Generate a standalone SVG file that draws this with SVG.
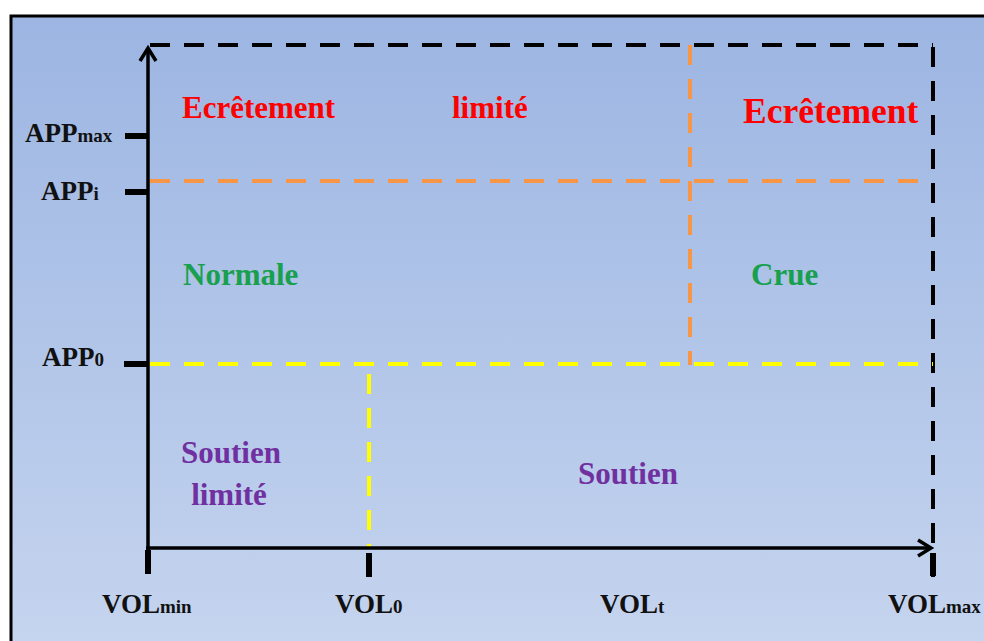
<svg xmlns="http://www.w3.org/2000/svg" width="984" height="641" viewBox="0 0 984 641">
<defs>
<linearGradient id="bg" x1="0" y1="0" x2="0" y2="1">
<stop offset="0" stop-color="#9cb5e2"/>
<stop offset="1" stop-color="#c6d5ef"/>
</linearGradient>
<marker id="arr" viewBox="0 0 20 20" refX="16" refY="10" markerWidth="20" markerHeight="20" markerUnits="userSpaceOnUse" orient="auto">
<path d="M3,2 L16,10 L3,18" fill="none" stroke="#000" stroke-width="3.5" stroke-linejoin="miter"/>
</marker>
<style>
text{font-family:"Liberation Serif","Times New Roman",serif;font-weight:bold}
.ax{font-size:27px;fill:#111}
.sub{font-size:19px}
.lbl{font-size:31px}
.red{fill:#ff0000}
.grn{fill:#18a04e}
.pur{fill:#7030a0}
.dash{fill:none;stroke-width:4;stroke-dasharray:20 14}
.tick{stroke:#000;stroke-width:6}
</style>
</defs>
<rect x="11" y="16" width="990" height="640" fill="url(#bg)" stroke="#000" stroke-width="3"/>
<g id="connectors">
<line class="dash" x1="150" y1="45" x2="933" y2="45" stroke="#000"/>
<line class="dash" x1="933" y1="47" x2="933" y2="578" stroke="#000"/>
<line class="dash" x1="150" y1="181" x2="930" y2="181" stroke="#f79646"/>
<line class="dash" x1="690" y1="45" x2="690" y2="365" stroke="#f79646"/>
<line class="dash" x1="150" y1="364" x2="933" y2="364" stroke="#ffff00"/>
<line class="dash" x1="369" y1="374" x2="369" y2="548" stroke="#ffff00"/>
<line x1="148" y1="550" x2="148" y2="48" stroke="#000" stroke-width="3.5" marker-end="url(#arr)"/>
<line x1="146" y1="548" x2="931" y2="548" stroke="#000" stroke-width="3.5" marker-end="url(#arr)"/>
<line class="tick" x1="125" y1="136" x2="148" y2="136"/>
<line class="tick" x1="125" y1="192" x2="148" y2="192"/>
<line class="tick" x1="124" y1="364" x2="148" y2="364"/>
<line class="tick" x1="148" y1="550" x2="148" y2="574"/>
<line class="tick" x1="369" y1="553" x2="369" y2="577"/>
<line class="tick" x1="933" y1="553" x2="933" y2="576"/>
</g>
<g id="axis-labels">
<text class="ax" x="25" y="142">APP<tspan class="sub">max</tspan></text>
<text class="ax" x="41" y="200">APP<tspan class="sub">i</tspan></text>
<text class="ax" x="42" y="366">APP<tspan class="sub">0</tspan></text>
<text class="ax" x="102" y="613">VOL<tspan class="sub">min</tspan></text>
<text class="ax" x="335" y="613">VOL<tspan class="sub">0</tspan></text>
<text class="ax" x="600" y="613">VOL<tspan class="sub">t</tspan></text>
<text class="ax" x="888" y="613">VOL<tspan class="sub">max</tspan></text>
</g>
<g id="zone-ecretement-limite">
<text class="red lbl" x="182" y="118">Ecrêtement</text>
<text class="red lbl" x="452" y="118">limité</text>
</g>
<g id="zone-ecretement">
<text class="red" x="743" y="123" font-size="35.5">Ecrêtement</text>
</g>
<g id="zone-normale">
<text class="grn lbl" x="183" y="285">Normale</text>
</g>
<g id="zone-crue">
<text class="grn lbl" x="751" y="285">Crue</text>
</g>
<g id="zone-soutien-limite">
<text class="pur lbl" x="231" y="463" text-anchor="middle">Soutien</text>
<text class="pur lbl" x="229" y="505" text-anchor="middle">limité</text>
</g>
<g id="zone-soutien">
<text class="pur lbl" x="628" y="484" text-anchor="middle">Soutien</text>
</g>
</svg>
